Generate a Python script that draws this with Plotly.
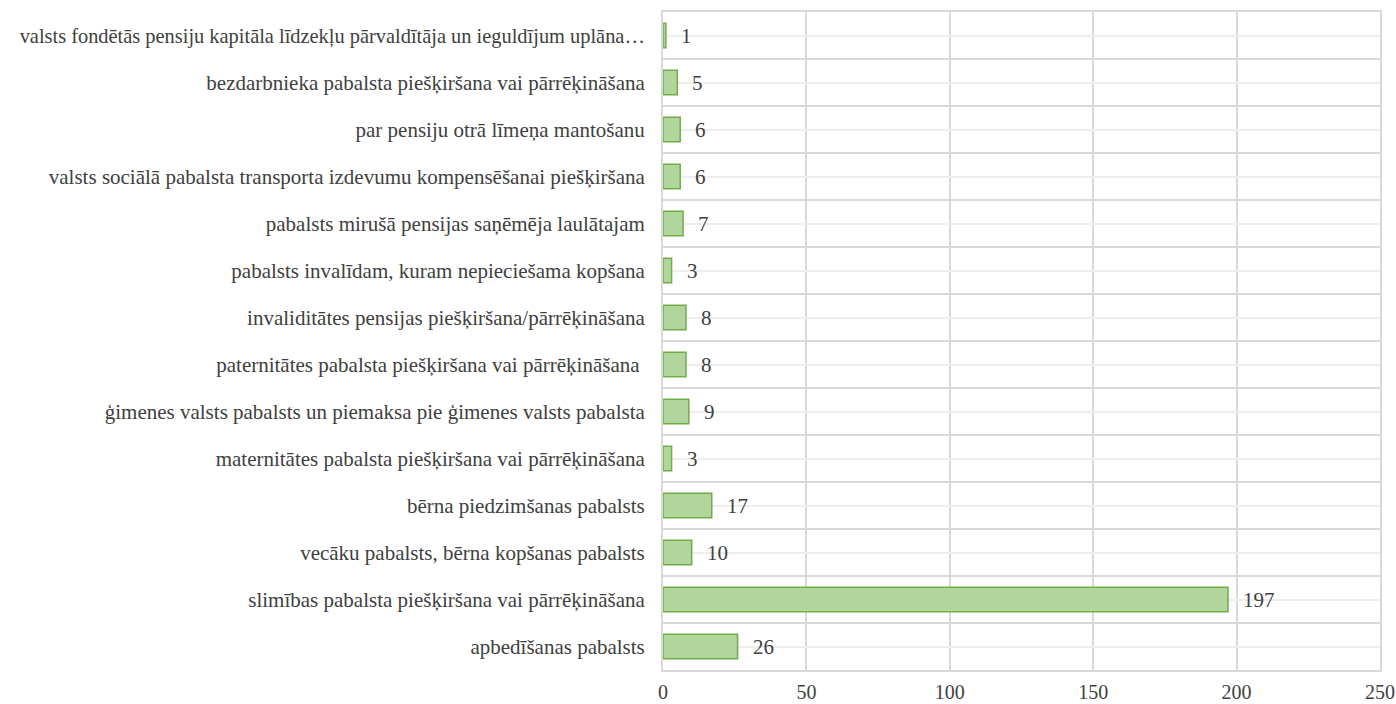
import plotly.graph_objects as go

categories = [
    "apbedīšanas pabalsts",
    "slimības pabalsta piešķiršana vai pārrēķināšana",
    "vecāku pabalsts, bērna kopšanas pabalsts",
    "bērna piedzimšanas pabalsts",
    "maternitātes pabalsta piešķiršana vai pārrēķināšana",
    "ģimenes valsts pabalsts un piemaksa pie ģimenes valsts pabalsta",
    "paternitātes pabalsta piešķiršana vai pārrēķināšana\u00a0",
    "invaliditātes pensijas piešķiršana/pārrēķināšana",
    "pabalsts invalīdam, kuram nepieciešama kopšana",
    "pabalsts mirušā pensijas saņēmēja laulātajam",
    "valsts sociālā pabalsta transporta izdevumu kompensēšanai piešķiršana",
    "par pensiju otrā līmeņa mantošanu",
    "bezdarbnieka pabalsta piešķiršana vai pārrēķināšana",
    "valsts fondētās pensiju kapitāla līdzekļu pārvaldītāja un ieguldījum uplāna…",
]
values = [26, 197, 10, 17, 3, 9, 8, 8, 3, 7, 6, 6, 5, 1]
x_ticks = [0, 50, 100, 150, 200, 250]

positions = list(range(len(categories)))
font_family = "Liberation Serif, Times New Roman, serif"
text_color = "#404040"

# the longest label is set a touch smaller so it fits inside the page
tick_text = [
    (f'<span style="font-size:20.4px">{c}</span>' if len(c) > 70 else c)
    for c in categories
]

fig = go.Figure()
fig.add_trace(go.Bar(
    x=values,
    y=positions,
    orientation="h",
    width=0.52,
    marker=dict(color="#b0d69c", line=dict(color="#70ad47", width=1.5)),
    hoverinfo="x+y",
))

for v, p in zip(values, positions):
    fig.add_annotation(
        x=v, y=p, text=str(v), showarrow=False,
        xanchor="left", xshift=13,
        font=dict(family=font_family, size=21, color=text_color),
    )

fig.update_layout(
    width=1396, height=704,
    margin=dict(l=663, r=16, t=12, b=34),
    paper_bgcolor="white", plot_bgcolor="white",
    showlegend=False,
    font=dict(family=font_family, size=21, color=text_color),
)
fig.update_xaxes(
    range=[0, 250],
    tickvals=x_ticks,
    showgrid=True, gridcolor="#d9d9d9", gridwidth=2,
    zeroline=False,
    showline=True, linecolor="#d9d9d9", linewidth=2, mirror=True,
    ticks="outside", ticklen=3, tickcolor="rgba(0,0,0,0)",
    tickfont=dict(family=font_family, size=20, color=text_color),
    automargin=False,
)
fig.update_yaxes(
    range=[-0.5, len(categories) - 0.5],
    tickmode="array",
    tickvals=positions,
    ticktext=tick_text,
    showgrid=True, gridcolor="#eeeeee", gridwidth=1.5,
    zeroline=False,
    showline=True, linecolor="#d9d9d9", linewidth=2, mirror=True,
    ticks="outside", ticklen=12, tickcolor="rgba(0,0,0,0)",
    tickfont=dict(family=font_family, size=21, color=text_color),
    minor=dict(tick0=-0.5, dtick=1, showgrid=True, gridcolor="#d9d9d9", gridwidth=2, ticks=""),
    automargin=False,
)

# remove the browser's default 8px body margin so the figure fills the window exactly
fig.write_html(
    "out.html",
    config={"displayModeBar": False},
    post_script="document.body.style.margin='0';document.body.style.overflow='hidden';",
)
